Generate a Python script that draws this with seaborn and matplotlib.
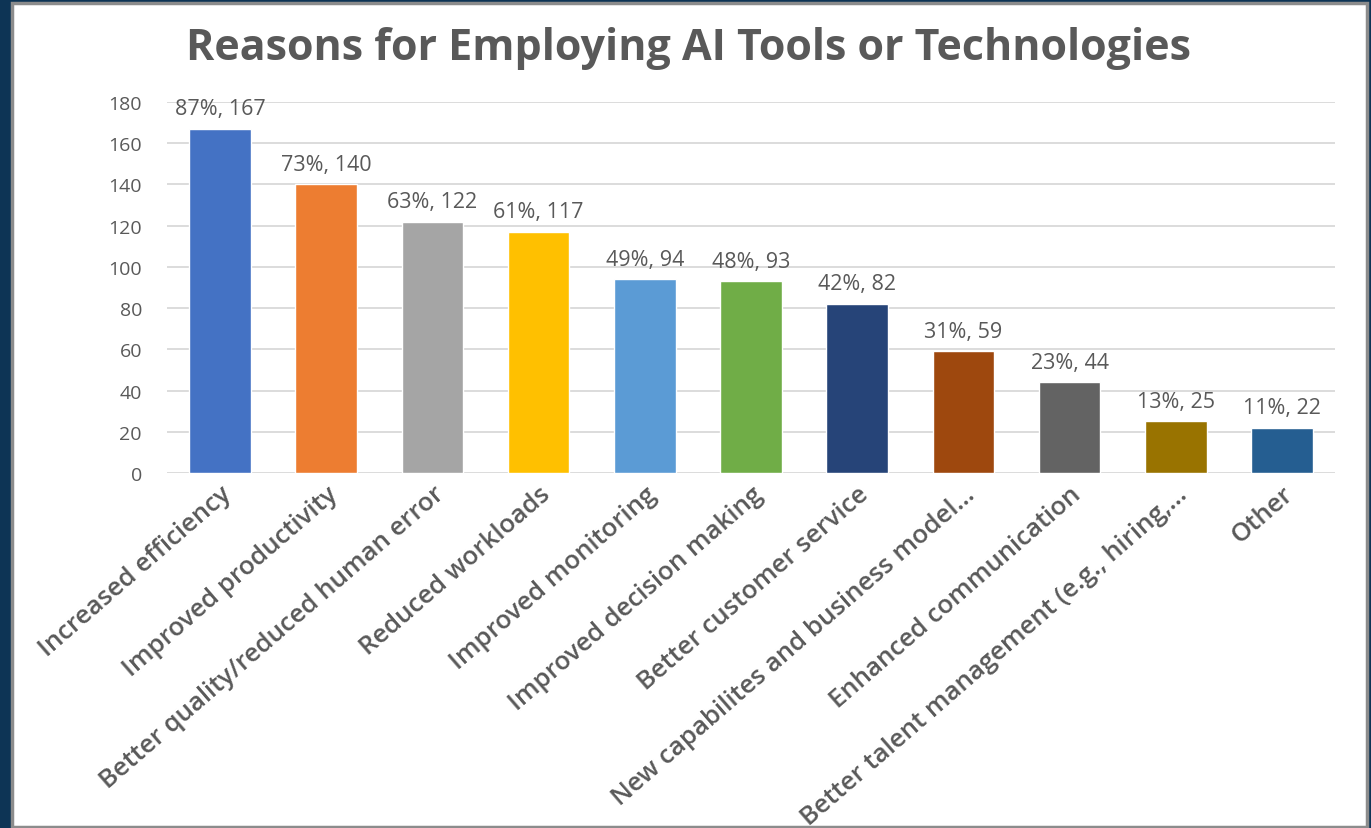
import matplotlib
matplotlib.use("Agg")
import matplotlib.pyplot as plt
from matplotlib.patches import Rectangle
import seaborn as sns
import pandas as pd

categories = [
    "Increased efficiency",
    "Improved productivity",
    "Better quality/reduced human error",
    "Reduced workloads",
    "Improved monitoring",
    "Improved decision making",
    "Better customer service",
    "New capabilites and business model…",
    "Enhanced communication",
    "Better talent management (e.g., hiring,…",
    "Other",
]
counts = [167, 140, 122, 117, 94, 93, 82, 59, 44, 25, 22]
percents = [87, 73, 63, 61, 49, 48, 42, 31, 23, 13, 11]
colors = ["#4472C4", "#ED7D31", "#A5A5A5", "#FFC000", "#5B9BD5", "#70AD47",
          "#264478", "#9E480E", "#636363", "#997300", "#255E91"]
y_ticks = [0, 20, 40, 60, 80, 100, 120, 140, 160, 180]

sns.set_theme(style="white")
plt.rcParams["font.family"] = ["Open Sans", "DejaVu Sans"]
text_color = "#595959"

df = pd.DataFrame({"reason": categories, "count": counts})

fig = plt.figure(figsize=(13.71, 8.29), dpi=100)
fig.patch.set_facecolor("#0d3455")

# white chart panel with grey frame, kept behind the axes
panel = Rectangle((12 / 1371, 1 - 828 / 829), (1367 - 12) / 1371, (828 - 4) / 829,
                  transform=fig.transFigure, facecolor="white",
                  edgecolor="#8c8c8c", linewidth=2.5, zorder=-10)
fig.patches.append(panel)

ax = fig.add_axes([167 / 1371, 355 / 829, (1335 - 167) / 1371, (474 - 103) / 829])
ax.set_zorder(1)
ax.set_facecolor("none")

sns.barplot(data=df, x="reason", y="count", hue="reason", palette=colors,
            legend=False, width=0.58, ax=ax, zorder=3, saturation=1)

ax.set_ylim(0, 180)
ax.set_xlim(-0.5, len(categories) - 0.5)
ax.set_yticks(y_ticks)
ax.yaxis.grid(True, color="#D9D9D9", linewidth=1.3, zorder=0)
ax.set_axisbelow(True)
for s in ax.spines.values():
    s.set_visible(False)
ax.set_xlabel("")
ax.set_ylabel("")
ax.tick_params(axis="y", length=0, pad=18, labelsize=14, labelcolor=text_color)
ax.tick_params(axis="x", length=0, pad=6, labelsize=18.5, labelcolor=text_color)
ax.set_xticks(range(len(categories)))
ax.set_xticklabels(categories, rotation=41, ha="right", rotation_mode="anchor",
                   fontweight="semibold")

for i, (c, p) in enumerate(zip(counts, percents)):
    ax.annotate(f"{p}%, {c}", (i, c), xytext=(0, 7), textcoords="offset points",
                ha="center", va="bottom", fontsize=15.5, color=text_color)

fig.text(688 / 1371, 1 - 48 / 829, "Reasons for Employing AI Tools or Technologies",
         ha="center", va="center", fontsize=31, fontweight="bold", color=text_color)

fig.savefig("out.png", dpi=100, facecolor=fig.get_facecolor())
